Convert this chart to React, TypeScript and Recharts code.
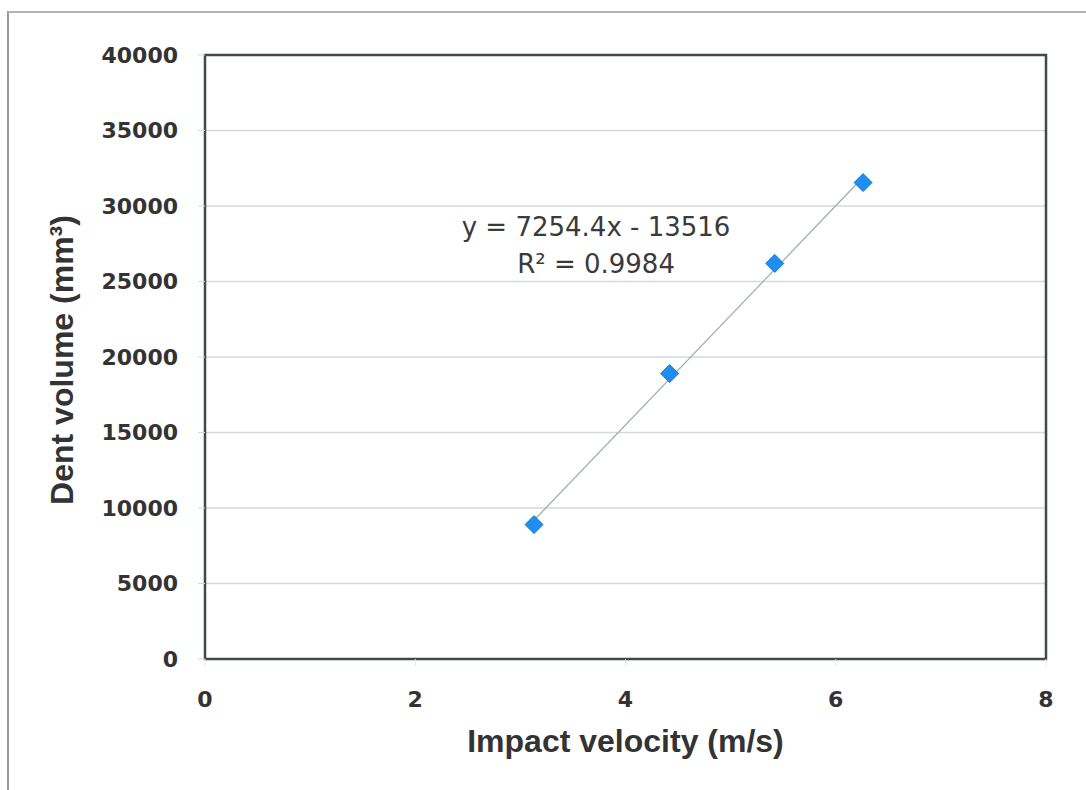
import React from 'react';
import {
    ScatterChart,
    Scatter,
    XAxis,
    YAxis,
    CartesianGrid,
    ReferenceArea,
    ReferenceDot
} from 'recharts';

// measured points (impact velocity m/s, dent volume mm3)
const velocity = [3.13, 4.42, 5.42, 6.26];
const dentVolume = [8900, 18900, 26200, 31550];

// linear trendline endpoints as drawn
const trendVelocity = [3.13, 6.26];
const trendVolume = [9190, 31900];

const xTicks = [0, 2, 4, 6, 8];
const yTicks = [0, 5000, 10000, 15000, 20000, 25000, 30000, 35000, 40000];

const equationLines = ['y = 7254.4x - 13516', 'R² = 0.9984'];

const points = velocity.map((v, i) => ({ v, vol: dentVolume[i] }));
const trend = trendVelocity.map((v, i) => ({ v, vol: trendVolume[i] }));

const tickStyle = { fill: '#333', fontSize: 22, fontFamily: 'DejaVu Sans', fontWeight: 700 };
const titleFont = 'Liberation Sans';

function Diamond(props: any) {
    const { cx, cy } = props;
    const r = 9;
    return (
        <polygon
            points={`${cx},${cy - r} ${cx + r},${cy} ${cx},${cy + r} ${cx - r},${cy}`}
            fill="#1e8ef0"
            stroke="#1778d6"
            strokeWidth={1}
        />
    );
}

export default function App() {
    return (
        <div
            style={{
                position: 'absolute',
                left: 7,
                top: 11,
                borderLeft: '2px solid #9a9a9a',
                borderTop: '2px solid #b4b4b4',
                background: '#fff'
            }}
        >
            <ScatterChart width={1077} height={777} margin={{ top: 42, right: 40, bottom: 31, left: 16 }}>
                <CartesianGrid vertical={false} stroke="#d6d9d9" strokeWidth={1.5} />
                <XAxis
                    type="number"
                    dataKey="v"
                    domain={[0, 8]}
                    ticks={xTicks}
                    height={100}
                    axisLine={false}
                    tickLine={{ stroke: '#e6e6e6' }}
                    tickSize={7}
                    tickMargin={25}
                    tick={tickStyle}
                    label={{
                        content: ({ viewBox }: any) => (
                            <text
                                x={viewBox.x + viewBox.width / 2}
                                y={viewBox.y + 93}
                                textAnchor="middle"
                                fill="#333"
                                fontSize={32}
                                fontWeight={700}
                                fontFamily={titleFont}
                            >
                                Impact velocity (m/s)
                            </text>
                        )
                    }}
                />
                <YAxis
                    type="number"
                    dataKey="vol"
                    domain={[0, 40000]}
                    ticks={yTicks}
                    width={180}
                    axisLine={false}
                    tickLine={{ stroke: '#d6d9d9' }}
                    tickSize={7}
                    tickMargin={20}
                    tick={tickStyle}
                    label={{
                        content: ({ viewBox }: any) => {
                            const x = viewBox.x + 37;
                            const y = viewBox.y + viewBox.height / 2 + 3;
                            return (
                                <text
                                    x={x}
                                    y={y}
                                    dy="0.35em"
                                    transform={`rotate(-90 ${x} ${y})`}
                                    textAnchor="middle"
                                    fill="#333"
                                    fontSize={32}
                                    fontWeight={700}
                                    fontFamily={titleFont}
                                >
                                    Dent volume (mm³)
                                </text>
                            );
                        }
                    }}
                />
                <ReferenceArea x1={0} x2={8} y1={0} y2={40000} fill="none" stroke="#424a48" strokeWidth={2.5} />
                <Scatter
                    data={trend}
                    line={{ stroke: '#a0aea8', strokeWidth: 1.3 }}
                    shape={() => <g />}
                    isAnimationActive={false}
                />
                <Scatter data={points} shape={Diamond} isAnimationActive={false} />
                <ReferenceDot
                    x={3.72}
                    y={28000}
                    r={1}
                    fill="none"
                    stroke="none"
                    label={{
                        content: ({ viewBox }: any) => {
                            const cx = viewBox.x + viewBox.width / 2;
                            const cy = viewBox.y + viewBox.height / 2;
                            return (
                                <g fill="#3a3a3a" fontSize={26} fontFamily="DejaVu Sans" textAnchor="middle">
                                    {equationLines.map((t, i) => (
                                        <text key={t} x={cx} y={cy + i * 37}>
                                            {t}
                                        </text>
                                    ))}
                                </g>
                            );
                        }
                    }}
                />
            </ScatterChart>
        </div>
    );
}
